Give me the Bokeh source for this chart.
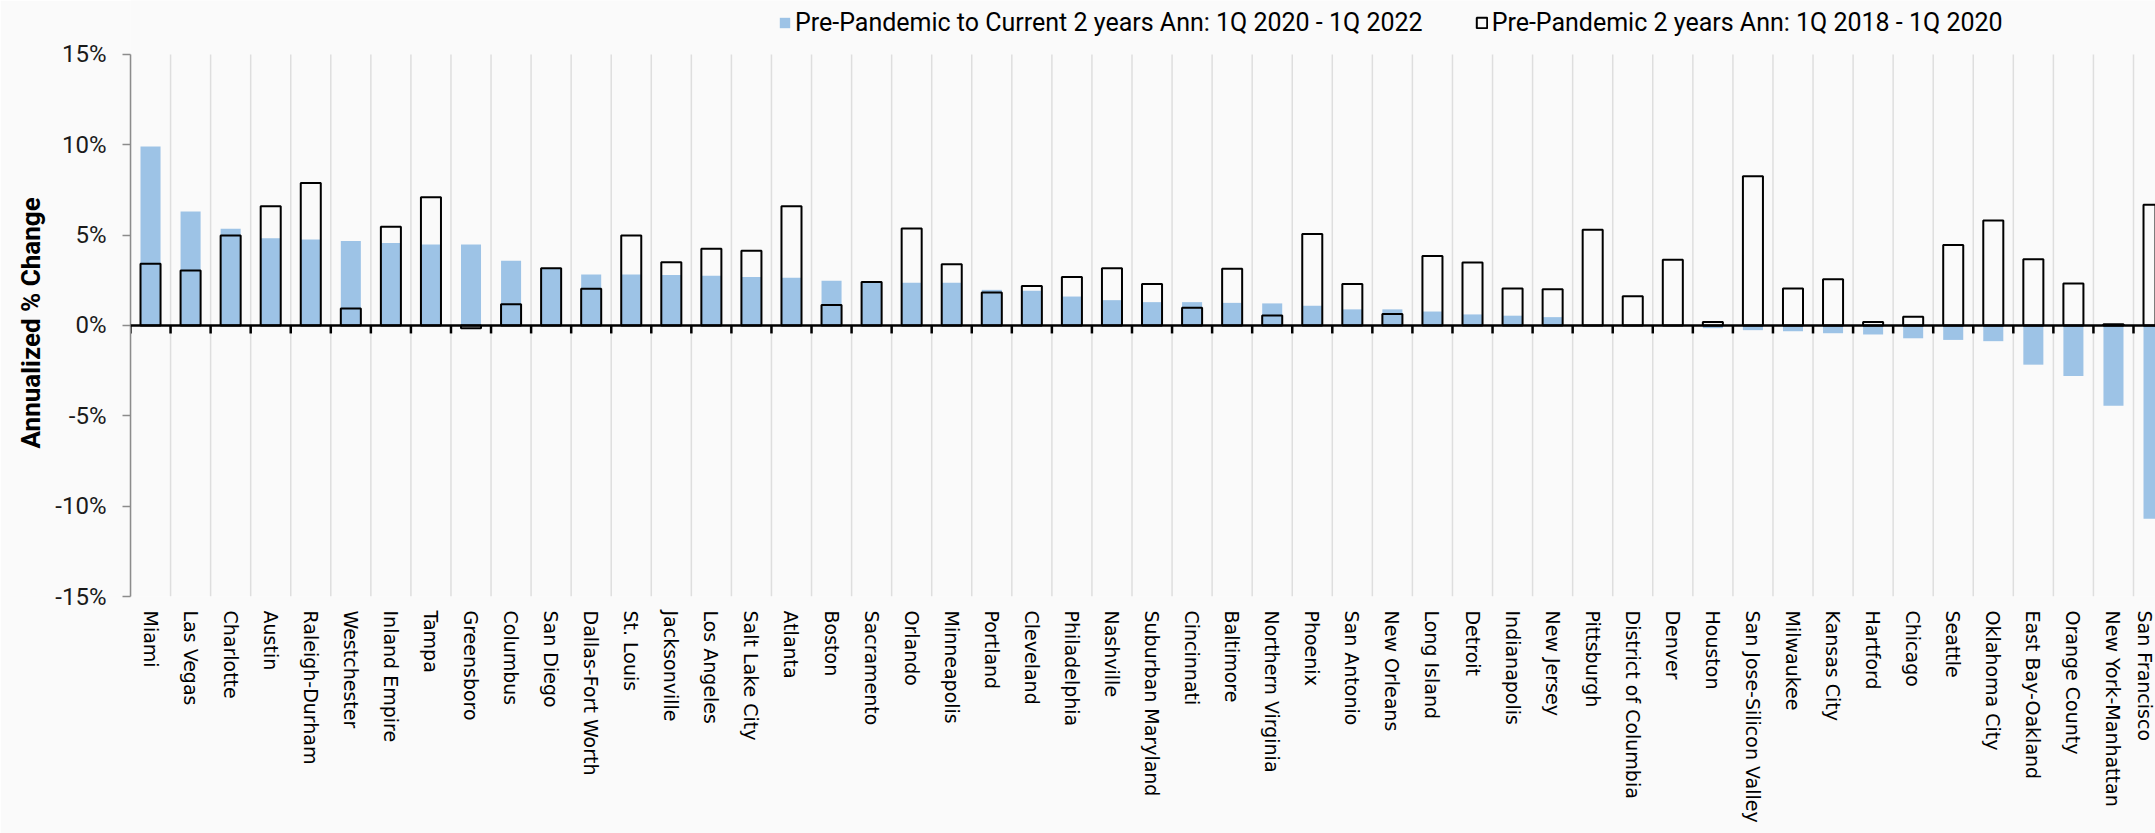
from bokeh.plotting import figure
from bokeh.models import Range1d, FixedTicker, Span, Legend, LegendItem, Title
from bokeh.embed import file_html
from bokeh.resources import INLINE

# Metro areas, ordered by the 1Q 2020 - 1Q 2022 annualized change
cities = [
    "Miami", "Las Vegas", "Charlotte", "Austin", "Raleigh-Durham", "Westchester",
    "Inland Empire", "Tampa", "Greensboro", "Columbus", "San Diego",
    "Dallas-Fort Worth", "St. Louis", "Jacksonville", "Los Angeles",
    "Salt Lake City", "Atlanta", "Boston", "Sacramento", "Orlando",
    "Minneapolis", "Portland", "Cleveland", "Philadelphia", "Nashville",
    "Suburban Maryland", "Cincinnati", "Baltimore", "Northern Virginia",
    "Phoenix", "San Antonio", "New Orleans", "Long Island", "Detroit",
    "Indianapolis", "New Jersey", "Pittsburgh", "District of Columbia",
    "Denver", "Houston", "San Jose-Silicon Valley", "Milwaukee", "Kansas City",
    "Hartford", "Chicago", "Seattle", "Oklahoma City", "East Bay-Oakland",
    "Orange County", "New York-Manhattan", "San Francisco",
]

# Annualized % change, 1Q 2020 - 1Q 2022
current = [
    9.9, 6.31, 5.35, 4.82, 4.76, 4.67, 4.56, 4.48, 4.48, 3.58, 3.15,
    2.82, 2.82, 2.79, 2.75, 2.68, 2.64, 2.47, 2.41, 2.36, 2.36, 1.97,
    1.92, 1.6, 1.4, 1.29, 1.29, 1.25, 1.22, 1.09, 0.89, 0.89, 0.77,
    0.61, 0.54, 0.46, 0.0, 0.0, -0.03, -0.15, -0.26, -0.32, -0.43,
    -0.5, -0.71, -0.8, -0.87, -2.17, -2.8, -4.45, -10.7,
]

# Annualized % change, 1Q 2018 - 1Q 2020
pre_pandemic = [
    3.41, 3.04, 4.98, 6.6, 7.88, 0.94, 5.46, 7.1, -0.15, 1.18, 3.17,
    2.03, 4.98, 3.5, 4.24, 4.13, 6.6, 1.13, 2.4, 5.37, 3.39, 1.83,
    2.18, 2.68, 3.17, 2.29, 0.98, 3.14, 0.55, 5.06, 2.29, 0.63, 3.84,
    3.49, 2.05, 2.01, 5.3, 1.62, 3.63, 0.19, 8.25, 2.05, 2.55,
    0.19, 0.48, 4.45, 5.81, 3.67, 2.32, 0.07, 6.68,
]

y_ticks = [-15, -10, -5, 0, 5, 10, 15]

series_labels = [
    "Pre-Pandemic to Current 2 years Ann: 1Q 2020 - 1Q 2022",
    "Pre-Pandemic 2 years Ann: 1Q 2018 - 1Q 2020",
]

BG = "#fafafa"
BLUE = "#9dc3e6"
GRID = "#dedede"

xs = list(range(len(cities)))
bounds = [i - 0.5 for i in range(len(cities) + 1)]

W, H = 2155, 833
LEFT, BOTTOM = 130, 237
frame_h = H - BOTTOM          # frame runs to the top edge; the legend sits in it
frame_w = W - LEFT
cat_px = 40.06                # pixels per metro
pct_px = 18.07                # pixels per percentage point

y_lo, y_hi = y_ticks[0], y_ticks[-1]
y_top = y_lo + frame_h / pct_px

p = figure(
    width=W, height=H,
    x_range=Range1d(-0.5, -0.5 + frame_w / cat_px),
    y_range=Range1d(y_lo, y_top),
    output_backend="svg", toolbar_location=None,
    min_border_left=LEFT, min_border_right=0,
    min_border_top=0, min_border_bottom=BOTTOM,
)
p.background_fill_color = BG
p.border_fill_color = BG
p.outline_line_color = None
p.grid.grid_line_color = None

# vertical separators between the metros, limited to the value scale
p.segment(x0=bounds, y0=[y_lo] * len(bounds), x1=bounds,
          y1=[y_hi] * len(bounds), line_color=GRID, line_width=1.5)

# category labels
xa = p.xaxis[0]
xa.ticker = FixedTicker(ticks=xs)
xa.major_label_overrides = {i: c for i, c in enumerate(cities)}
xa.major_label_orientation = "vertical"
xa.major_label_text_font = "DejaVu Sans"
xa.major_label_text_font_size = "19px"
xa.major_label_text_color = "#000000"
xa.major_label_standoff = 14
xa.major_tick_out = 0
xa.major_tick_in = 0
xa.major_tick_line_color = None
xa.minor_tick_line_color = None
xa.axis_line_color = None

# value axis
ya = p.yaxis[0]
ya.bounds = (y_lo, y_hi)
ya.ticker = FixedTicker(ticks=y_ticks)
ya.major_label_overrides = {v: f"{v}%" for v in y_ticks}
ya.major_label_text_font = "Roboto"
ya.major_label_text_font_size = "24px"
ya.major_label_text_color = "#1a1a1a"
ya.major_label_standoff = 16
ya.major_tick_out = 8
ya.major_tick_in = 0
ya.major_tick_line_color = "#8c8c8c"
ya.major_tick_line_width = 1.5
ya.minor_tick_line_color = None
ya.axis_line_color = "#8c8c8c"
ya.axis_line_width = 1.5

# value-axis title, running upward from just below the zero line's level
p.add_layout(Title(text="Annualized % Change", align="left",
                   text_font="Roboto", text_font_style="bold",
                   text_font_size="26px", text_color="#000000",
                   offset=148, standoff=14), "left")

blue = p.vbar(x=xs, top=current, bottom=0, width=0.5,
              fill_color=BLUE, line_color=None)
outline = p.vbar(x=xs, top=pre_pandemic, bottom=0, width=0.5,
                 fill_color=None, line_color="black", line_width=2)

# zero line with category ticks hanging below it
p.add_layout(Span(location=0, dimension="width", line_color="black",
                  line_width=2.5))
tick_len = 8 / pct_px
p.segment(x0=bounds, y0=[0] * len(bounds), x1=bounds,
          y1=[-tick_len] * len(bounds), line_color="black", line_width=2.5)

legend = Legend(
    items=[LegendItem(label=series_labels[0], renderers=[blue]),
           LegendItem(label=series_labels[1], renderers=[outline])],
    location=(648, frame_h - 37), orientation="horizontal",
    padding=0, margin=0, spacing=52, label_standoff=4,
    glyph_width=13, glyph_height=13,
    label_text_font="Roboto", label_text_font_size="25px",
    label_text_color="#000000",
    background_fill_alpha=0, border_line_color=None,
)
p.add_layout(legend)

open("out.html", "w").write(file_html(p, INLINE))
